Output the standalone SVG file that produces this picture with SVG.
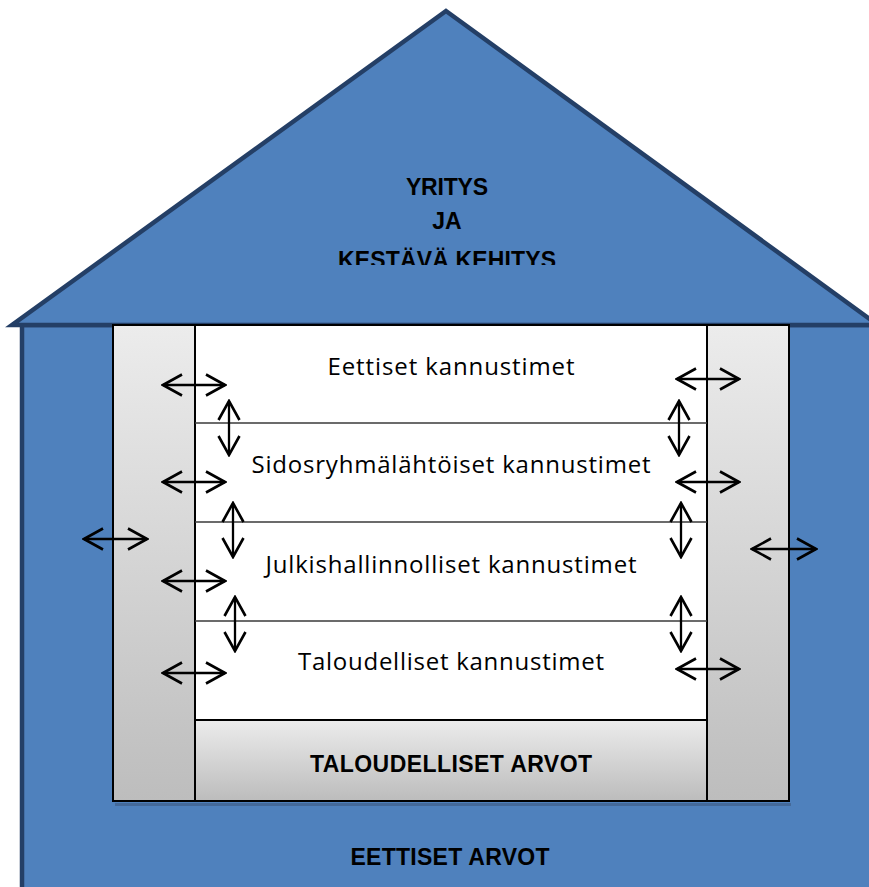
<svg xmlns="http://www.w3.org/2000/svg" width="869" height="887" viewBox="0 0 869 887">
<style>
.house{fill:#4f81bd;stroke:#243f66;stroke-width:4.5;stroke-linejoin:miter}
.frame{stroke:#000;stroke-width:2}
.div{stroke:#3a3a3a;stroke-width:1.5}
.lbl{font-family:"Open Sans","Liberation Sans",sans-serif;font-size:24px;fill:#000;text-anchor:middle}
.bold{font-family:"Liberation Sans",Arial,sans-serif;font-weight:bold;font-size:23px;fill:#000;text-anchor:middle}
.arr{fill:none;stroke:#000;stroke-width:2.3;marker-start:url(#head);marker-end:url(#head)}
</style>
<defs>
<linearGradient id="pillar" x1="0" y1="0" x2="0" y2="1">
<stop offset="0" stop-color="#ececec"/>
<stop offset="1" stop-color="#bdbdbd"/>
</linearGradient>
<linearGradient id="base" x1="0" y1="0" x2="0" y2="1">
<stop offset="0" stop-color="#ececec"/>
<stop offset="1" stop-color="#bcbcbc"/>
</linearGradient>
<marker id="head" markerUnits="userSpaceOnUse" viewBox="-21 -12 23 24" refX="0" refY="0" markerWidth="23" markerHeight="24" orient="auto-start-reverse">
<path d="M-19,-10.5 L0,0 L-19,10.5" fill="none" stroke="#000" stroke-width="2.6"/>
</marker>
<clipPath id="roofclip"><rect x="0" y="0" width="869" height="265"/></clipPath>
</defs>

<g id="house">
<rect class="house" x="22" y="325" width="900" height="600"/>
<polygon class="house" points="446,11 878,325 12,325"/>
<text class="bold" x="447" y="195" textLength="82">YRITYS</text>
<text class="bold" x="447" y="229">JA</text>
<text class="bold" x="447" y="268" textLength="218" clip-path="url(#roofclip)">KESTÄVÄ KEHITYS</text>
<text class="bold" x="450" y="865" textLength="199">EETTISET ARVOT</text>
</g>

<g id="frame">
<rect x="115" y="803" width="676" height="3" fill="#3d5a80" opacity="0.6"/>
<rect class="frame" x="113" y="325" width="676" height="476" fill="#fff"/>
</g>

<g id="left-pillar">
<rect class="frame" x="113" y="325" width="82" height="476" fill="url(#pillar)"/>
</g>
<g id="right-pillar">
<rect class="frame" x="707" y="325" width="82" height="476" fill="url(#pillar)"/>
</g>

<g id="eettiset-kannustimet">
<text class="lbl" x="451" y="375" textLength="247">Eettiset kannustimet</text>
</g>
<g id="sidosryhma-kannustimet">
<line class="div" x1="195" y1="423" x2="707" y2="423"/>
<text class="lbl" x="451" y="473" textLength="399">Sidosryhmälähtöiset kannustimet</text>
</g>
<g id="julkishallinnolliset-kannustimet">
<line class="div" x1="195" y1="522" x2="707" y2="522"/>
<text class="lbl" x="451" y="573" textLength="371">Julkishallinnolliset kannustimet</text>
</g>
<g id="taloudelliset-kannustimet">
<line class="div" x1="195" y1="621" x2="707" y2="621"/>
<text class="lbl" x="451" y="670" textLength="306">Taloudelliset kannustimet</text>
</g>
<g id="taloudelliset-arvot">
<rect class="frame" x="195" y="720" width="512" height="81" fill="url(#base)"/>
<text class="bold" x="451" y="772" textLength="282">TALOUDELLISET ARVOT</text>
</g>

<g id="connectors">
<path class="arr" d="M163,385 H225"/>
<path class="arr" d="M163,482 H225"/>
<path class="arr" d="M163,581 H225"/>
<path class="arr" d="M163,673 H225"/>
<path class="arr" d="M677,379 H739"/>
<path class="arr" d="M677,482 H739"/>
<path class="arr" d="M677,669 H739"/>
<path class="arr" d="M84,539 H147"/>
<path class="arr" d="M752,549 H816"/>
<path class="arr" d="M229,401 V455"/>
<path class="arr" d="M233,503 V557"/>
<path class="arr" d="M235,597 V651"/>
<path class="arr" d="M679,401 V455"/>
<path class="arr" d="M681,503 V557"/>
<path class="arr" d="M681,597 V651"/>
</g>
</svg>
